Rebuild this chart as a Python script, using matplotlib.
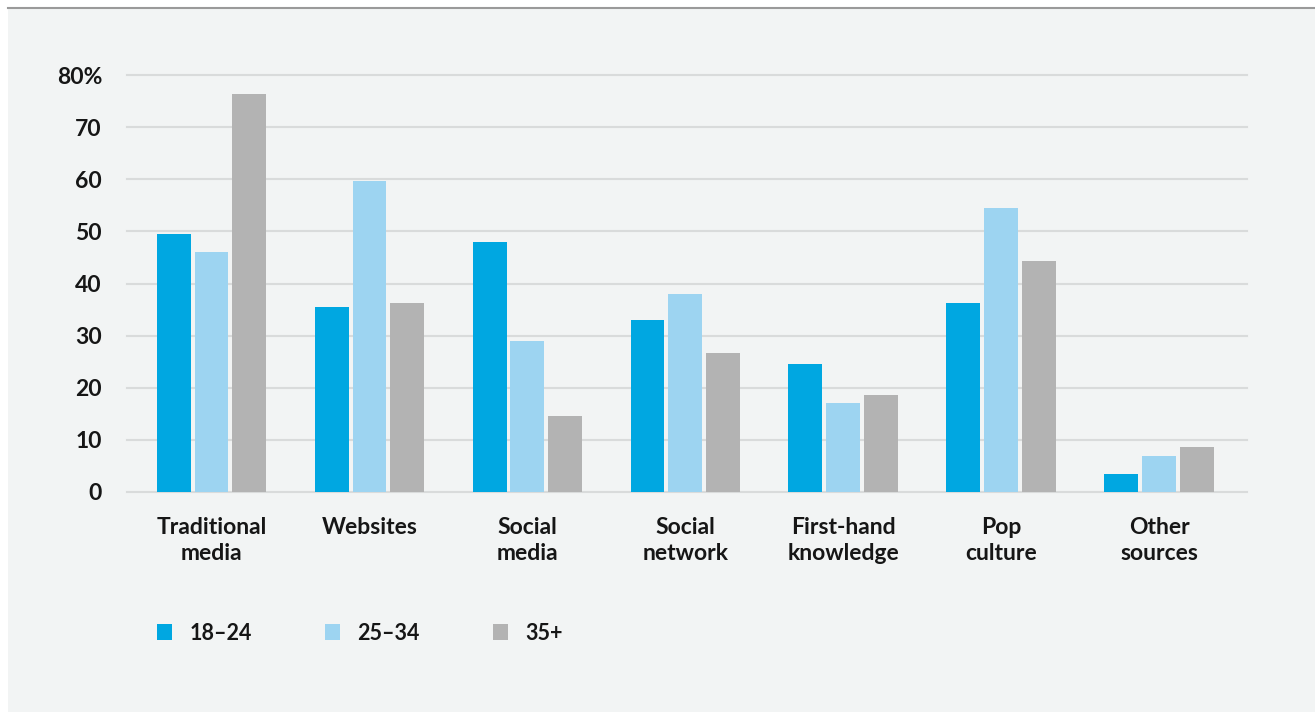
import numpy as np
import matplotlib
matplotlib.use("Agg")
import matplotlib.pyplot as plt
from matplotlib.patches import Rectangle
from matplotlib.lines import Line2D

categories = ["Traditional\nmedia", "Websites", "Social\nmedia", "Social\nnetwork",
              "First-hand\nknowledge", "Pop\nculture", "Other\nsources"]
series_names = ["18\u201324", "25\u201334", "35+"]
age_18_24 = [49.5, 35.5, 48.0, 33.0, 24.6, 36.3, 3.5]
age_25_34 = [46.0, 59.6, 29.0, 38.0, 17.1, 54.5, 7.0]
age_35_up = [76.4, 36.3, 14.6, 26.7, 18.6, 44.3, 8.6]
yticks = [0, 10, 20, 30, 40, 50, 60, 70, 80]
ytick_labels = ["0", "10", "20", "30", "40", "50", "60", "70", "80%"]

colors = ["#00a7e1", "#9dd4f1", "#b3b3b3"]
panel = "#f2f4f4"
ink = "#161616"

plt.rcParams['font.family'] = ['Lato', 'DejaVu Sans']
plt.rcParams['font.weight'] = 'bold'

W, H = 1315, 712
fig = plt.figure(figsize=(W / 100, H / 100), dpi=100, facecolor="white")

# backdrop panel and the rule above it
fig.patches.append(Rectangle((8 / W, 0), 1 - 8 / W, 1 - 8 / H, transform=fig.transFigure,
                             facecolor=panel, edgecolor="none", zorder=-10))
fig.lines.append(Line2D([8 / W, 1], [1 - 7.5 / H, 1 - 7.5 / H], transform=fig.transFigure,
                        color="#9a9a9a", linewidth=1.5, zorder=-9))

ax = fig.add_axes([127 / W, 1 - 492 / H, (1247 - 127) / W, (492 - 75) / H])
ax.set_facecolor("none")
ax.set_zorder(1)

x = np.arange(len(categories))
width = 0.215
step = 0.24
for i, (vals, name) in enumerate(zip([age_18_24, age_25_34, age_35_up], series_names)):
    ax.bar(x + (i - 1) * step, vals, width=width, color=colors[i], label=name, zorder=3)

ax.set_xlim(-0.535, 6.555)
ax.set_ylim(0, 80)
ax.set_yticks(yticks)
ax.set_yticklabels(ytick_labels)
ax.set_xticks(x)
ax.set_xticklabels(categories, linespacing=1.32)

ax.grid(axis="y", color="#d9dbdb", linewidth=1.5)
ax.set_axisbelow(True)
for gl in ax.get_ygridlines():
    gl.set_clip_on(False)
for s in ax.spines.values():
    s.set_visible(False)

ax.tick_params(axis="both", length=0, labelsize=16.5, labelcolor=ink)
ax.tick_params(axis="y", pad=18)
ax.tick_params(axis="x", pad=18)

fig.legend(loc="center left", bbox_to_anchor=(157 / W, 1 - 633 / H), ncol=3, frameon=False,
           fontsize=15.5, handlelength=0.7, handleheight=0.7, handletextpad=0.8,
           columnspacing=3.4, borderpad=0, borderaxespad=0, labelcolor=ink)

fig.savefig("out.png", dpi=100, facecolor="white")
